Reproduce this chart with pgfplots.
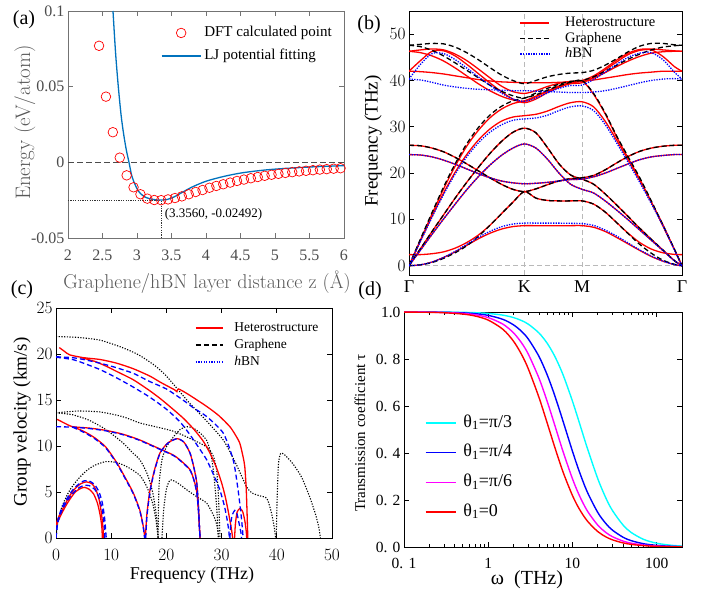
\documentclass[border=0pt]{standalone}
\usepackage{fontspec}
\setmainfont{Liberation Serif}
\usepackage{pgfplots}
\usepackage{pgfplotstable}
\pgfplotsset{compat=1.18}
\newcommand{\fs}[1]{\fontsize{#1}{#1}\selectfont}
\newcommand{\lmfont}{\fontfamily{lmr}\selectfont}
\definecolor{ljblue}{RGB}{0,114,189}
\definecolor{tcyan}{RGB}{0,255,255}
\definecolor{tmag}{RGB}{255,0,255}
\definecolor{tblue}{RGB}{0,0,255}
\definecolor{tred}{RGB}{255,0,0}

\pgfplotsset{
  panel/.style={scale only axis, anchor=south west, tick align=inside,
    axis line style={line width=0.9pt}, every tick/.style={line width=0.8pt, black},
    major tick length=5pt, minor tick length=3pt, legend cell align=left},
  het/.style={tred, line width=1.3pt, smooth, tension=0.5},
  gra/.style={black, line width=1.3pt, dash pattern=on 5pt off 3pt, smooth, tension=0.5},
  hbn/.style={tblue, line width=1.3pt, dash pattern=on 1.3pt off 1.3pt, smooth, tension=0.5},
  cdash/.style={tblue, line width=1.3pt, dash pattern=on 5pt off 3pt, smooth, tension=0.4},
  cdot/.style={black, line width=1.1pt, dash pattern=on 1.2pt off 1.5pt, smooth, tension=0.4},
  chet/.style={tred, line width=1.3pt, smooth, tension=0.4},
}

% phonon branches along Gamma-K-M-Gamma (path coordinate, THz)
\pgfplotstableread{
X     ZA   TA   LA   ZO   LO   TO
0     0    0    0    26.0 47.6 47.6
0.1   0.2  3.7  5.8  25.9 47.3 47.8
0.2   0.7  7.4  11.5 25.4 46.5 48.0
0.3   1.6  11.0 17.0 24.6 45.3 47.9
0.4   2.8  14.6 22.0 23.4 43.8 47.2
0.5   4.3  18.0 26.3 22.0 42.2 46.0
0.6   6.3  21.2 29.8 20.5 40.6 44.5
0.7   8.7  24.2 32.5 19.0 39.0 42.8
0.8   11.2 26.8 34.4 17.6 37.7 41.2
0.9   13.7 28.8 35.6 16.5 36.7 40.0
1.0   16.0 29.7 36.2 16.0 36.2 39.3
1.1   14.6 28.7 36.9 16.6 37.3 40.0
1.2   14.1 25.5 37.9 17.5 38.3 40.8
1.3   14.0 22.0 38.9 18.3 39.2 41.3
1.4   14.0 19.6 39.6 18.8 39.8 41.6
1.5   14.0 18.7 40.0 19.0 40.0 41.7
1.6   13.3 17.6 37.2 19.5 40.8 42.2
1.7   11.6 15.5 33.0 20.7 42.0 43.3
1.8   9.3  13.1 28.0 22.2 43.3 44.7
1.9   6.9  10.6 23.5 23.6 44.6 46.2
2.0   4.6  8.1  19.0 24.7 45.7 47.4
2.1   2.7  5.7  14.0 25.4 46.6 48.0
2.2   1.2  3.4  8.8  25.8 47.2 48.0
2.3   0.3  1.1  3.6  26.0 47.5 47.7
2.366 0    0    0    26.0 47.6 47.6
}\graphenetab

\pgfplotstableread{
X     ZA   TA   LA   ZO   LO   TO
0     0    0    0    24.0 40.3 40.3
0.1   0.2  3.4  5.3  23.9 40.1 43.5
0.2   0.8  6.8  10.5 23.5 39.6 45.8
0.3   1.8  10.1 15.4 22.8 39.0 45.8
0.4   3.1  13.3 19.8 21.9 38.6 44.5
0.5   4.6  16.4 23.5 20.9 38.3 42.7
0.6   6.1  19.2 26.5 19.9 38.1 40.8
0.7   7.4  21.7 28.8 19.0 38.0 39.0
0.8   8.4  23.8 30.4 18.3 37.9 37.3
0.9   9.0  25.4 31.4 17.9 37.8 36.0
1.0   9.2  26.3 31.7 17.7 37.8 35.5
1.1   9.2  25.4 31.9 17.8 37.7 36.2
1.2   9.2  23.0 32.5 18.0 37.6 37.3
1.3   9.2  20.0 33.5 18.3 37.5 38.3
1.4   9.15 17.6 34.3 18.6 37.4 38.9
1.5   9.1  16.5 34.5 18.7 37.4 39.0
1.6   8.7  15.7 33.5 19.2 37.5 40.2
1.7   7.7  14.0 30.5 20.0 37.8 41.8
1.8   6.4  12.0 26.5 21.0 38.3 43.5
1.9   4.9  9.9  22.3 22.0 38.9 45.0
2.0   3.4  7.7  18.0 22.9 39.5 45.9
2.1   2.1  5.5  13.4 23.5 40.0 46.0
2.2   1.0  3.3  8.7  23.8 40.3 44.5
2.3   0.25 1.1  3.4  24.0 40.4 41.8
2.366 0    0    0    24.0 40.3 40.3
}\hbntab

\pgfplotstableread{
X     h1    h2    h3   h4   h5   h6   h7   h8   h9   h10  h11  h12
0     0     2.4   0    0    0    0    26.0 24.0 46.3 46.3 42.0 42.0
0.1   0.2   2.4   3.7  3.4  5.6  5.4  25.9 23.9 46.6 46.0 44.3 41.9
0.2   0.8   2.6   7.4  6.8  11.2 10.7 25.4 23.5 46.8 45.3 46.3 41.7
0.3   1.8   3.0   11.0 10.1 16.6 15.7 24.6 22.8 46.6 44.2 46.4 41.4
0.4   3.0   3.8   14.6 13.3 21.5 20.2 23.4 21.9 45.7 42.7 45.3 41.0
0.5   4.4   5.0   18.0 16.4 25.8 24.0 22.0 20.9 44.3 41.0 43.5 40.6
0.6   5.8   6.6   21.2 19.2 29.2 27.1 20.5 19.9 42.5 39.3 41.5 40.2
0.7   7.0   8.7   24.2 21.7 31.9 29.5 19.0 19.0 40.6 37.8 39.5 39.9
0.8   7.9   11.2  26.8 23.8 33.8 31.2 17.6 18.3 38.8 36.6 37.6 39.7
0.9   8.45  13.7  28.8 25.4 35.0 32.1 16.5 17.9 37.6 35.8 36.0 39.6
1.0   8.65  16.0  29.7 26.3 35.6 32.4 16.0 17.7 37.2 35.5 35.2 39.5
1.1   8.65  14.6  28.7 25.4 36.6 32.7 16.6 17.8 37.8 36.5 36.0 39.5
1.2   8.65  14.1  25.5 23.0 37.7 33.4 17.5 18.0 38.7 37.7 37.4 39.5
1.3   8.65  14.0  22.0 20.0 38.7 34.4 18.3 18.3 39.4 38.8 38.5 39.6
1.4   8.65  14.0  19.6 17.6 39.5 35.2 18.8 18.6 39.8 39.5 39.3 39.7
1.5   8.65  14.0  18.7 16.5 39.9 35.4 19.0 18.7 40.0 39.8 39.5 39.8
1.6   8.3   13.3  17.6 15.7 37.0 34.3 19.5 19.2 41.0 40.5 40.7 40.1
1.7   7.4   11.6  15.5 14.0 32.8 31.2 20.7 20.0 42.6 41.7 42.3 40.5
1.8   6.1   9.3   13.1 12.0 27.8 27.1 22.2 21.0 44.4 43.0 44.0 40.9
1.9   4.7   7.0   10.6 9.9  23.2 22.8 23.6 22.0 45.9 44.2 45.6 41.3
2.0   3.3   5.0   8.1  7.7  18.7 18.4 24.7 22.9 46.7 45.2 46.5 41.6
2.1   2.0   3.6   5.7  5.5  13.8 13.7 25.4 23.5 46.8 45.9 46.6 41.8
2.2   1.0   2.8   3.4  3.3  8.6  8.9  25.8 23.8 46.6 46.2 45.2 42.0
2.3   0.25  2.45  1.1  1.1  3.5  3.5  26.0 24.0 46.4 46.3 43.0 42.0
2.366 0     2.4   0    0    0    0    26.0 24.0 46.3 46.3 42.0 42.0
}\heterotab

% transmission coefficient vs frequency (THz)
\pgfplotstableread{
w     r      m      b      c
0.1   0.9996 0.9998 0.9999 0.9999
0.2   0.9986 0.9990 0.9994 0.9998
0.3   0.9968 0.9978 0.9987 0.9995
0.5   0.9912 0.9939 0.9964 0.9985
0.7   0.9829 0.9882 0.9929 0.9970
1     0.9656 0.9762 0.9857 0.9939
1.5   0.9258 0.9479 0.9684 0.9865
2     0.8754 0.9110 0.9451 0.9762
2.5   0.8180 0.8676 0.9168 0.9633
3     0.7573 0.8199 0.8845 0.9479
4     0.6371 0.7191 0.8115 0.9110
5     0.5291 0.6210 0.7337 0.8676
6     0.4383 0.5322 0.6568 0.8199
7     0.3644 0.4553 0.5843 0.7698
8     0.3050 0.3902 0.5184 0.7191
10    0.2193 0.2906 0.4079 0.6210
12    0.1632 0.2215 0.3236 0.5322
15    0.1110 0.1540 0.2344 0.4214
20    0.0656 0.0929 0.1469 0.2906
25    0.0430 0.0615 0.0993 0.2077
30    0.0303 0.0435 0.0711 0.1540
40    0.0173 0.0250 0.0413 0.0929
50    0.0111 0.0161 0.0268 0.0615
70    0.0057 0.0083 0.0139 0.0324
100   0.0028 0.0041 0.0068 0.0161
150   0.0012 0.0018 0.0031 0.0072
200   0.0007 0.0010 0.0017 0.0041
}\transtab

\begin{document}
\begin{tikzpicture}
\useasboundingbox (0pt,0pt) rectangle (707pt,597pt);

% ---------------- (a) interlayer energy ----------------
\begin{axis}[panel, width=276pt, height=227pt, at={(68pt,359pt)},
  xmin=2, xmax=6, ymin=-0.05, ymax=0.1,
  axis line style={black!55, line width=0.8pt}, every tick/.style={black!55, line width=0.7pt},
  xtick={2,2.5,...,6}, xticklabels={2,2.5,3,3.5,4,4.5,5,5.5,6},
  ytick={-0.05,0,0.05,0.1}, yticklabels={-0.05,0,0.05,0.1},
  ticklabel style={font=\fs{16}, text=black!70},
  xticklabel style={yshift=-8pt},
  legend image code/.code={\draw[mark repeat=2, mark phase=2, #1] plot coordinates {(0pt,0pt) (19.5pt,0pt) (39pt,0pt)};},
  legend style={draw=none, fill=none, inner sep=0pt, outer sep=0pt, font=\fs{15}, row sep=9.5pt,
    at={(axis description cs:0.337,0.933)}, anchor=north west,
    nodes={inner sep=0pt, text height=10.5pt, text depth=3pt},
    /tikz/every odd column/.append style={column sep=3pt}},
]
\addlegendimage{only marks, mark=o, tred, mark size=4.8pt, line width=0.7pt}
\addlegendentry{DFT calculated point}
\addlegendimage{ljblue, line width=1.3pt}
\addlegendentry{LJ potential fitting}
\addplot[forget plot, black!70, line width=0.8pt, dash pattern=on 6pt off 3pt] coordinates {(2,0) (6,0)};
\addplot[forget plot, black!80, line width=0.7pt, dash pattern=on 1.2pt off 1.2pt] coordinates {(2,-0.02492) (3.356,-0.02492)};
\addplot[forget plot, black!80, line width=0.7pt, dash pattern=on 1.2pt off 1.2pt] coordinates {(3.356,-0.05) (3.356,-0.02492)};
\addplot[forget plot, only marks, mark=o, tred, mark size=4.8pt, line width=0.7pt] coordinates {
 (2.45,0.077) (2.55,0.0434) (2.65,0.0199) (2.75,0.0031) (2.85,-0.0086) (2.95,-0.0165)
 (3.05,-0.0211) (3.15,-0.0240) (3.25,-0.0249) (3.35,-0.0250) (3.45,-0.0245) (3.55,-0.0236)
 (3.65,-0.0225) (3.75,-0.0211) (3.85,-0.0196) (3.95,-0.0183) (4.05,-0.0168) (4.15,-0.0156)
 (4.25,-0.0145) (4.35,-0.0134) (4.45,-0.0123) (4.55,-0.0114) (4.65,-0.0105) (4.75,-0.0097)
 (4.85,-0.0089) (4.95,-0.0082) (5.05,-0.0076) (5.15,-0.0070) (5.25,-0.0065) (5.35,-0.0060)
 (5.45,-0.0056) (5.55,-0.0052) (5.65,-0.0048) (5.75,-0.0045) (5.85,-0.0042) (5.95,-0.0039)};
\addplot[forget plot, ljblue, line width=1.3pt, smooth, tension=0.5] coordinates {
 (2.652,0.1) (2.69,0.072) (2.729,0.05) (2.77,0.031) (2.807,0.0185) (2.845,0.0082) (2.884,0.0)
 (2.925,-0.0090) (2.97,-0.0145) (3.02,-0.0190) (3.08,-0.0218) (3.14,-0.0234) (3.21,-0.0243)
 (3.28,-0.0248) (3.356,-0.02492) (3.44,-0.0245) (3.53,-0.0230) (3.65,-0.0200) (3.8,-0.0163)
 (4.0,-0.0125) (4.25,-0.0094) (4.5,-0.0071) (4.75,-0.0056) (5.0,-0.0045) (5.5,-0.0031) (6.0,-0.0022)};
\node[anchor=west, font=\fs{13}, inner sep=0pt] at (axis cs:3.40,-0.0344) {(3.3560, -0.02492)};
\end{axis}

% ---------------- (b) phonon dispersion ----------------
\begin{axis}[panel, width=273pt, height=264pt, at={(409pt,322pt)},
  xmin=0, xmax=2.366, ymin=-2, ymax=55,
  xtick={0,1,1.5,2.366}, xticklabels={Γ,K,M,Γ},
  xtick style={/pgfplots/major tick length=0pt},
  xmajorgrids, major x grid style={gray!55, line width=0.8pt, dash pattern=on 5pt off 3pt},
  ytick={0,10,...,50},
  ticklabel style={font=\fs{18}},
  xticklabel style={yshift=-2pt},
  legend image code/.code={\draw[#1] (0pt,0pt) -- (29pt,0pt);},
  legend style={draw=none, fill=none, inner sep=0pt, outer sep=0pt, font=\fs{14.5}, row sep=2.5pt,
    at={(axis description cs:0.406,0.979)}, anchor=north west,
    nodes={inner sep=0pt, text height=10pt, text depth=3pt},
    /tikz/every odd column/.append style={column sep=15pt}},
]
\addlegendimage{tred, line width=1.3pt}
\addlegendentry{Heterostructure}
\addlegendimage{black, line width=1.3pt, dash pattern=on 5pt off 3pt}
\addlegendentry{Graphene}
\addlegendimage{tblue, line width=1.3pt, dash pattern=on 1.3pt off 1.3pt}
\addlegendentry{\textit{h}BN}
\addplot[forget plot, gray!55, line width=0.8pt, dash pattern=on 5pt off 3pt] coordinates {(0,0) (2.366,0)};
\foreach \c in {h1,h2,h3,h4,h5,h6,h7,h8,h9,h10,h11,h12}{
  \addplot[forget plot, het] table[x=X, y=\c] {\heterotab};
}
\foreach \c in {ZA,TA,LA,ZO,LO,TO}{
  \addplot[forget plot, gra] table[x=X, y=\c] {\graphenetab};
}
\foreach \c in {ZA,TA,LA,ZO,LO,TO}{
  \addplot[forget plot, hbn] table[x=X, y=\c] {\hbntab};
}
\end{axis}

% ---------------- (c) group velocity ----------------
\begin{axis}[panel, width=276pt, height=230pt, at={(56pt,59pt)},
  xmin=0, xmax=50, ymin=0, ymax=25,
  xtick={0,10,...,50}, ytick={0,5,...,25},
  ticklabel style={font=\fs{17}},
  xticklabel style={yshift=-8pt},
  legend image code/.code={\draw[#1] (0pt,0pt) -- (27pt,0pt);},
  legend style={draw=none, fill=none, inner sep=0pt, outer sep=0pt, font=\fs{13.5}, row sep=4.5pt,
    at={(axis description cs:0.504,0.940)}, anchor=north west,
    nodes={inner sep=0pt, text height=9.5pt, text depth=3pt},
    /tikz/every odd column/.append style={column sep=11pt}},
]
\addlegendimage{tred, line width=1.3pt}
\addlegendentry{Heterostructure}
\addlegendimage{black, line width=1.3pt, dash pattern=on 5pt off 3pt}
\addlegendentry{Graphene}
\addlegendimage{tblue, line width=1.3pt, dash pattern=on 1.3pt off 1.3pt}
\addlegendentry{\textit{h}BN}
% dotted branches
\addplot[forget plot, cdot] coordinates {(0,21.9) (4,21.8) (8,21.5) (12,20.7) (15,19.9) (18,18.7) (20,17.6) (22,16.2) (24.3,14.6) (27,12.9) (30.3,10.65) (32.5,8.2) (34.5,5.6) (35.5,4.9) (36.8,4.6) (38.2,4.3) (39.0,2.8) (39.5,1.3) (39.8,0)};
\addplot[forget plot, cdot] coordinates {(0,13.6) (4,13.8) (8,13.7) (12,13.2) (15.2,12.5) (18,12.1) (21.3,11.6) (24,10.9) (27.3,9.9) (28.5,8.9) (29.1,7.4) (29.4,4.9) (29.6,2) (29.7,0)};
\addplot[forget plot, cdot] coordinates {(0,13.6) (3,13.4) (6,12.8) (9,11.8) (12,10.4) (14,9.2) (15.2,8.5) (16.5,7.0) (17.5,5.0) (18.1,2.8) (18.4,1.0) (18.5,0)};
\addplot[forget plot, cdot] coordinates {(0,0) (0.4,2.0) (1.2,3.6) (2.5,5.2) (4,6.4) (5.5,7.3) (7,7.9) (9,8.3) (11,8.2) (13,7.7) (15.2,6.8) (16.5,5.5) (17.5,3.8) (18.1,2.0) (18.5,0)};
\addplot[forget plot, cdot] coordinates {(19.2,0) (19.5,3.0) (20.0,5.3) (20.7,6.3) (22,6.0) (24,5.1) (26,4.3) (27.3,3.8) (28.5,2.5) (29.1,1.5) (29.5,0)};
\addplot[forget plot, cdot] coordinates {(18.5,0) (18.55,3) (18.7,6) (19.2,8.5) (20,9.9) (21.3,11.0) (22.5,11.8) (23.7,12.1) (25,11.9) (26.3,11.3) (27.3,10.6) (28.0,9.3) (28.5,7.4) (29.0,4.2) (29.3,1.5) (29.4,0)};
\addplot[forget plot, cdot] coordinates {(39.9,0) (40.05,4) (40.3,8) (40.7,9.2) (41.5,9.0) (43,8.0) (44.5,6.6) (46,4.4) (47,2.6) (47.6,1.2) (47.9,0)};
% heterostructure branches
\addplot[forget plot, chet] coordinates {(0.6,20.7) (1.5,20.3) (2.5,19.9) (5,19.6) (8,19.4) (11,19.0) (14,18.4) (17,17.6) (19,16.9) (21.5,16.1) (21.9,15.9) (22.2,16.2) (24,15.6) (27.3,14.3) (29.5,13.3) (31.5,12.1) (32.5,11.2) (33.3,10.3) (33.9,8.8) (34.2,7.75) (34.45,5.5) (34.6,3.0) (34.75,0)};
\addplot[forget plot, chet] coordinates {(4.6,19.6) (7,19.2) (9,18.7) (11,18.1) (14,17.2) (17,16.0) (19,15.1) (21,14.1) (23.1,13.0) (25,11.8) (26.7,10.5) (28,9.1) (29.1,7.6) (30.0,6.0) (30.7,4.4) (31.3,2.6) (31.8,0.9) (32.0,0)};
\addplot[forget plot, chet] coordinates {(32.35,0) (32.5,1.5) (32.8,2.8) (33.3,3.2) (33.8,2.9) (34.2,1.9) (34.45,0.8) (34.55,0)};
\addplot[forget plot, chet] coordinates {(0.2,12.9) (1.5,12.5) (3,12.1) (6,11.95) (9,11.7) (12,11.3) (15,10.7) (18,9.9) (21.3,9.0) (23,8.2) (24.3,7.4) (25.0,6.3) (25.5,5.0) (25.8,3.0) (26.0,1.0) (26.1,0)};
\addplot[forget plot, chet] coordinates {(3,12.1) (5,11.6) (7,10.9) (9,9.9) (11,8.2) (12.5,6.6) (14,4.9) (15.2,3.0) (15.8,1.3) (16.1,0)};
\addplot[forget plot, chet] coordinates {(16.2,0) (16.45,2.5) (17.0,5.1) (17.8,7.3) (18.8,9.2) (20.2,10.3) (21.9,10.8) (23.2,10.4) (24.3,9.2) (25.0,7.6) (25.5,6.0) (25.8,3.5) (26.0,1.0) (26.1,0)};
\addplot[forget plot, chet] coordinates {(0,1.5) (0.5,2.3) (1.5,3.5) (2.5,4.6) (3.5,5.4) (4.5,5.9) (5.5,6.1) (6.5,5.9) (7.2,5.3) (7.8,4.2) (8.2,2.8) (8.5,1.2) (8.6,0)};
\addplot[forget plot, chet] coordinates {(0,1.3) (0.5,2.0) (1.5,3.2) (2.5,4.2) (3.5,5.0) (4.5,5.4) (5.2,5.5) (6,5.3) (6.8,4.8) (7.5,3.8) (8.0,2.5) (8.3,1.2) (8.4,0)};
% dashed branches
\addplot[forget plot, cdash] coordinates {(0,19.7) (3,19.6) (5,19.4) (8,19.0) (11,18.5) (14,17.9) (17,17.0) (20,16.2) (23,15.0) (25,14.1) (27.3,13.2) (30.3,11.4) (32.1,8.5) (32.9,5.6) (33.5,2.7) (33.8,0.8) (33.9,0)};
\addplot[forget plot, cdash] coordinates {(0,19.65) (3,19.4) (5,19.0) (8,18.3) (11,17.4) (14,16.4) (17,15.3) (20,14.0) (22.5,12.6) (24.3,11.2) (26,9.7) (27.3,8.5) (28.6,6.8) (29.7,5.2) (30.5,3.5) (31.0,2.0) (31.3,0.8) (31.4,0)};
\addplot[forget plot, cdash] coordinates {(31.5,0) (31.7,1.8) (32.0,2.6) (32.4,3.0) (32.8,2.6) (33.2,1.5) (33.5,0.6) (33.6,0)};
\addplot[forget plot, cdash] coordinates {(0,12.1) (3,12.05) (6,11.9) (9,11.65) (12,11.25) (15,10.65) (18,9.85) (21.3,8.95) (23,8.15) (24.3,7.35) (25.0,6.25) (25.5,4.9) (25.8,3.0) (26.0,1.0) (26.1,0)};
\addplot[forget plot, cdash] coordinates {(3,12.05) (5,11.5) (7,10.8) (9,9.8) (11,8.1) (12.5,6.5) (14,4.8) (15.2,2.9) (15.8,1.2) (16.05,0)};
\addplot[forget plot, cdash] coordinates {(16.25,0) (16.5,2.5) (17.05,5.1) (17.85,7.3) (18.85,9.2) (20.25,10.3) (21.95,10.8) (23.2,10.4) (24.3,9.2) (25.0,7.6) (25.5,6.0) (25.8,3.5) (26.0,1.0) (26.1,0)};
\addplot[forget plot, cdash] coordinates {(0,0) (0.3,1.8) (1,3.2) (2,4.3) (3,5.2) (4,5.8) (5,6.2) (6,6.2) (7,5.8) (7.8,5.0) (8.4,3.8) (8.8,2.2) (9.0,0.8) (9.1,0)};
\addplot[forget plot, cdash] coordinates {(0,0) (0.3,1.6) (1,2.9) (2,4.0) (3,4.8) (4,5.4) (5,5.7) (6,5.7) (7,5.3) (7.8,4.4) (8.4,3.0) (8.75,1.3) (8.85,0)};
\end{axis}

% ---------------- (d) transmission coefficient ----------------
\begin{axis}[panel, width=278pt, height=235pt, at={(404pt,50pt)},
  xmode=log, xmin=0.1, xmax=200, ymin=0, ymax=1,
  xtick={0.1,1,10,100}, xticklabels={0. 1,1,10,100},
  ytick={0,0.2,...,1}, yticklabels={0. 0,0. 2,0. 4,0. 6,0. 8,1.0},
  ticklabel style={font=\fs{15.5}},
  xticklabel style={yshift=-8pt},
  legend image code/.code={\draw[#1] (0pt,0pt) -- (30pt,0pt);},
  legend style={draw=none, fill=none, inner sep=0pt, outer sep=0pt, font=\fs{18}, row sep=12.2pt,
    at={(axis description cs:0.0755,0.565)}, anchor=north west,
    nodes={inner sep=0pt, text height=13pt, text depth=4.5pt},
    /tikz/every odd column/.append style={column sep=7pt}},
]
\addplot[tcyan, line width=1.4pt, smooth] table[x=w, y=c] {\transtab};
\addlegendentry{θ\textsubscript{1}=π/3}
\addplot[tblue, line width=1.4pt, smooth] table[x=w, y=b] {\transtab};
\addlegendentry{θ\textsubscript{1}=π/4}
\addplot[tmag, line width=1.4pt, smooth] table[x=w, y=m] {\transtab};
\addlegendentry{θ\textsubscript{1}=π/6}
\addplot[tred, line width=1.4pt, smooth] table[x=w, y=r] {\transtab};
\addlegendentry{θ\textsubscript{1}=0}
\end{axis}

% ---------------- labels ----------------
\node[rotate=90, font=\lmfont\fs{21}, text=black!65] at (25pt,474.5pt) {Energy (eV/atom)};
\node[font=\lmfont\fs{20}, text=black!65] at (207pt,315pt) {Graphene/hBN layer distance z (Å)};
\node[rotate=90, font=\fs{19}] at (373pt,456pt) {Frequency (THz)};
\node[rotate=90, font=\fs{19}] at (22pt,175pt) {Group velocity (km/s)};
\node[font=\fs{18}] at (192pt,22pt) {Frequency (THz)};
\node[rotate=90, font=\fs{15}] at (360pt,164pt) {Transmission coefficient τ};
\node[font=\fs{20}] at (527pt,17pt) {ω\ \ (THz)};
\node[font=\fs{20}] at (24pt,577pt) {(a)};
\node[font=\fs{20}] at (369pt,572pt) {(b)};
\node[font=\fs{20}] at (22pt,307pt) {(c)};
\node[font=\fs{20}] at (370pt,306pt) {(d)};
\end{tikzpicture}
\end{document}
